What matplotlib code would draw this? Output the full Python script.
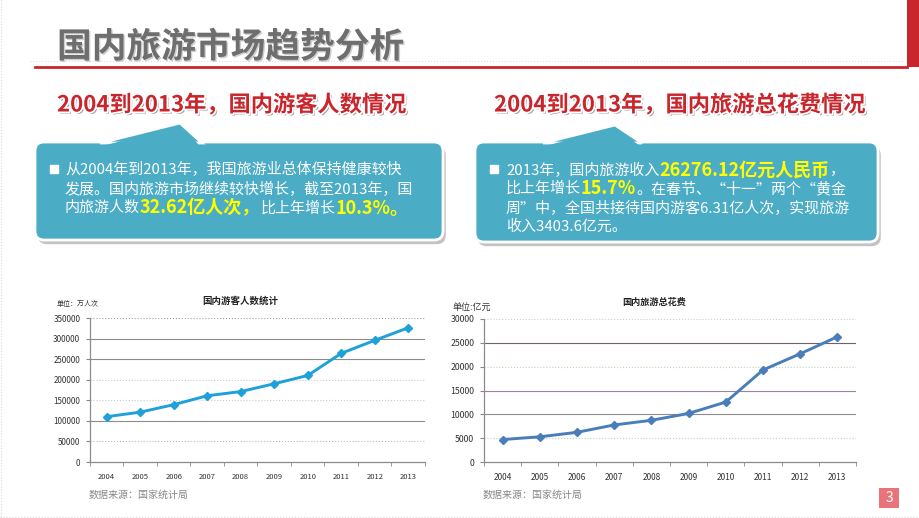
import matplotlib
matplotlib.use('Agg')
import matplotlib.pyplot as plt
from matplotlib.patches import FancyBboxPatch, Polygon, Rectangle
import matplotlib.patheffects as pe

plt.rcParams['font.family'] = ['Noto Sans CJK SC', 'DejaVu Sans']
plt.rcParams['axes.unicode_minus'] = False

# 数据
years = ['2004', '2005', '2006', '2007', '2008', '2009', '2010', '2011', '2012', '2013']
tourists = [110200, 121200, 139400, 161000, 171200, 190200, 210300, 264100, 295700, 326200]  # 万人次
spending = [4711, 5286, 6230, 7771, 8749, 10184, 12580, 19305, 22706, 26276]  # 亿元

page_title = '国内旅游市场趋势分析'
sub_left = '2004到2013年，国内游客人数情况'
sub_right = '2004到2013年，国内旅游总花费情况'
chart_title_left = '国内游客人数统计'
chart_title_right = '国内旅游总花费'
unit_left = '单位：万人次'
unit_right = '单位:亿元'
source = '数据来源：国家统计局'

W, H = 920, 518
fig = plt.figure(figsize=(W / 100, H / 100), dpi=100)
fig.patch.set_facecolor('white')

# 背景层，坐标即像素
bg = fig.add_axes([0, 0, 1, 1])
bg.set_xlim(0, W)
bg.set_ylim(H, 0)
bg.axis('off')

RED = '#c9252c'
BOX = '#4bacc6'
YEL = '#ffff00'

# 标题和红线
bg.text(57, 47, page_title, fontsize=25, fontweight='bold', color='#6e6e6e', va='center', ha='left',
        path_effects=[pe.SimplePatchShadow(offset=(1, -1), shadow_rgbFace='#b0b0b0', alpha=0.6), pe.Normal()])
bg.plot([30, 905], [61, 61], color='#dddddd', lw=0.8, ls=':')
bg.plot([35, 907], [66.5, 66.5], color=RED, lw=2)
bg.add_patch(Rectangle((907, 0), 13, 67, color=RED, lw=0))

# 边框虚线
bg.plot([1, 1], [0, 518], color='#d8d8e8', lw=0.8, ls=':')
bg.plot([919, 919], [67, 518], color='#d8d8d8', lw=0.8, ls=':')
bg.plot([0, 920], [516.5, 516.5], color='#d8d8d8', lw=0.8, ls=':')

sub_fx = [pe.SimplePatchShadow(offset=(1.5, -1.5), shadow_rgbFace='#777777', alpha=0.7),
          pe.withStroke(linewidth=2.5, foreground='white')]
bg.text(57, 105, sub_left, fontsize=16, fontweight='bold', color=RED, va='center', ha='left', path_effects=sub_fx)
bg.text(494, 105, sub_right, fontsize=16, fontweight='bold', color=RED, va='center', ha='left', path_effects=sub_fx)


def callout(x0, y0, x1, y1, ptr):
    shadow = [pe.SimplePatchShadow(offset=(2, -3), shadow_rgbFace='#888888', alpha=0.5), pe.Normal()]
    box = FancyBboxPatch((x0, y0), x1 - x0, y1 - y0, boxstyle='round,pad=0,rounding_size=9',
                         fc=BOX, ec='white', lw=2, path_effects=shadow, zorder=2)
    bg.add_patch(box)
    bg.add_patch(Polygon(ptr, closed=True, fc=BOX, ec='white', lw=2, zorder=2))
    cover = [(ptr[0][0] + 2, ptr[0][1] + 3), (ptr[1][0], ptr[1][1] + 3), (ptr[2][0] - 2, ptr[2][1] + 3)]
    bg.add_patch(Polygon(cover, closed=True, fc=BOX, ec='none', zorder=3))


callout(35, 142, 443, 240, [(100, 143), (180, 123), (202, 143)])
callout(475, 142, 878, 242, [(543, 143), (615, 125), (642, 143)])

renderer = fig.canvas.get_renderer()


def rich_line(x, y, parts, size=10.8):
    for s, c, w in parts:
        fs = size + 2.2 if w == 'bold' else size
        t = bg.text(x, y, s, color=c, fontsize=fs, fontweight=w, va='center', ha='left', zorder=5)
        x += t.get_window_extent(renderer=renderer).width


N, B = 'normal', 'bold'
bg.add_patch(Rectangle((50, 165), 8, 8, color='white', zorder=5))
rich_line(65, 170, [('从2004年到2013年，我国旅游业总体保持健康较快', 'white', N)])
rich_line(65, 189, [('发展。国内旅游市场继续较快增长，截至2013年，国', 'white', N)])
rich_line(65, 208, [('内旅游人数', 'white', N), ('32.62亿人次，', YEL, B), ('比上年增长', 'white', N),
                    ('10.3%。', YEL, B)])

bg.add_patch(Rectangle((490, 165), 8, 8, color='white', zorder=5))
rich_line(506, 170, [('2013年，国内旅游收入', 'white', N), ('26276.12亿元人民币', YEL, B), ('，', 'white', N)])
rich_line(506, 189, [('比上年增长', 'white', N), ('15.7%', YEL, B), ('。在春节、“十一”两个“黄金', 'white', N)])
rich_line(506, 208, [('周”中，全国共接待国内游客6.31亿人次，实现旅游', 'white', N)])
rich_line(506, 227, [('收入3403.6亿元。', 'white', N)])

# 页码
bg.add_patch(Rectangle((879, 488), 20, 20, color='#e8747a', lw=0))
bg.text(889, 498.5, '3', color='white', fontsize=10, ha='center', va='center')


def chart(px, vals, ymax, step, color, grid, tick_size):
    x0, y0, x1, y1 = px
    ax = fig.add_axes([x0 / W, 1 - y1 / H, (x1 - x0) / W, (y1 - y0) / H])
    ax.patch.set_alpha(0)
    idx = list(range(len(years)))
    ticks = list(range(0, ymax + 1, step))
    for v, (c, ls) in zip(ticks[1:], grid):
        ax.axhline(v, color=c, lw=0.8, ls=ls, zorder=0)
    ax.plot(idx, vals, color=color, lw=2.1, marker='D', ms=3.8, zorder=3)
    ax.set_xlim(-0.5, len(years) - 0.5)
    ax.set_ylim(0, ymax)
    ax.set_yticks(ticks)
    ax.set_yticklabels([str(t) for t in ticks])
    ax.set_xticks(idx)
    ax.set_xticklabels(years)
    ax.set_xticks([i - 0.5 for i in range(len(years) + 1)], minor=True)
    ax.tick_params(axis='x', which='major', length=0, labelsize=tick_size, pad=8, colors='#333333')
    ax.tick_params(axis='x', which='minor', length=3, color='#888888', direction='out')
    ax.tick_params(axis='y', length=3, color='#888888', labelsize=tick_size + 0.3, pad=4, labelcolor='#333333')
    for s in ('top', 'right'):
        ax.spines[s].set_visible(False)
    for s in ('left', 'bottom'):
        ax.spines[s].set_color('#8c8c8c')
        ax.spines[s].set_linewidth(0.9)
    return ax


grid_left = [('#a8c8a0', ':'), ('#8c8c8c', '-'), ('#c8c8c8', ':'), ('#d8c0e0', ':'),
             ('#8c8c8c', '-'), ('#8c8c8c', '-'), ('#a0a0a0', ':')]
grid_right = [('#b8d8b0', ':'), ('#8c8c8c', '-'), ('#a080a0', '-'), ('#b8d8b0', ':'),
              ('#706070', '-'), ('#c0d8c0', ':')]

chart((90, 318, 425, 462), tourists, 350000, 50000, '#1ea1d9', grid_left, 5.5)
chart((484, 319, 856, 462), spending, 30000, 5000, '#4a7ebb', grid_right, 6)

bg.text(240, 301, chart_title_left, fontsize=6.8, fontweight='bold', color='#222222', ha='center', va='center')
bg.text(654, 302, chart_title_right, fontsize=6.6, fontweight='bold', color='#222222', ha='center', va='center')
bg.text(57, 304, unit_left, fontsize=5, color='#333333', ha='left', va='center')
bg.text(453, 307, unit_right, fontsize=6.5, color='#333333', ha='left', va='center')
bg.text(89, 495, source, fontsize=7.2, color='#888888', ha='left', va='center')
bg.text(483, 495, source, fontsize=7.2, color='#888888', ha='left', va='center')

fig.savefig('out.png', dpi=100, facecolor='white')
